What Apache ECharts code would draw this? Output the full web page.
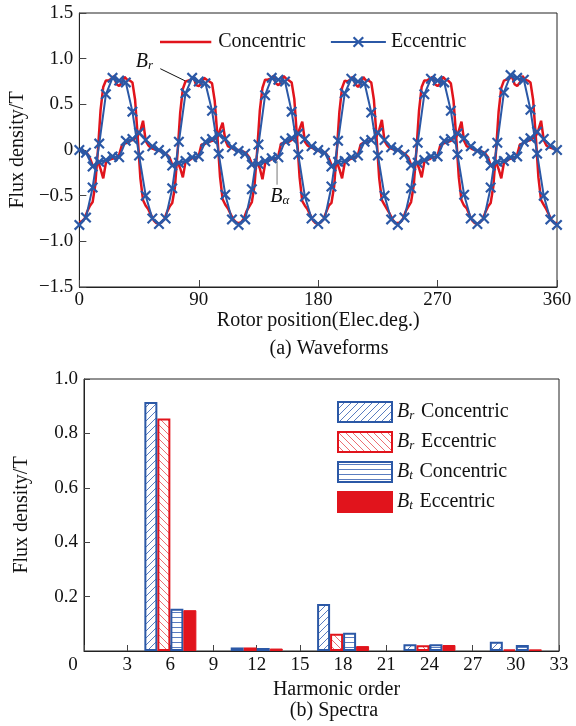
<!DOCTYPE html>
<html>
<head>
<meta charset="utf-8">
<script src="https://cdn.jsdelivr.net/npm/echarts@6/dist/echarts.min.js"></script>
<style>
html, body { margin: 0; padding: 0; background: #fff; }
#chart { width: 576px; height: 726px; }
</style>
</head>
<body>
<div id="chart"></div>
<script>
// (a) waveforms, sampled every redStep / blueStep electrical degrees from 0
const redStep = 2
const blueStep = 5

// B_r concentric (red)
const brConcentric = [
  -0.79, -0.78, -0.75, -0.67, -0.61, -0.57, -0.38, 0.00, 0.44, 0.69, 0.76, 0.76, 0.78, 0.81, 0.72, 0.70, 0.74, 0.80, 0.77, 0.76, 0.74, 0.55, 0.14, -0.31, -0.55, -0.61, -0.65, -0.71, -0.77, -0.80,
  -0.81, -0.79, -0.76, -0.68, -0.62, -0.58, -0.41, -0.03, 0.41, 0.67, 0.75, 0.76, 0.77, 0.80, 0.71, 0.70, 0.73, 0.79, 0.77, 0.75, 0.73, 0.54, 0.16, -0.29, -0.54, -0.60, -0.64, -0.70, -0.76, -0.79,
  -0.80, -0.79, -0.75, -0.67, -0.62, -0.57, -0.39, -0.01, 0.43, 0.68, 0.77, 0.77, 0.78, 0.81, 0.73, 0.71, 0.74, 0.81, 0.78, 0.76, 0.74, 0.56, 0.15, -0.30, -0.56, -0.61, -0.65, -0.71, -0.77, -0.80,
  -0.81, -0.79, -0.76, -0.68, -0.61, -0.58, -0.40, -0.02, 0.42, 0.68, 0.76, 0.75, 0.77, 0.80, 0.72, 0.69, 0.73, 0.80, 0.76, 0.76, 0.74, 0.55, 0.14, -0.31, -0.55, -0.60, -0.65, -0.70, -0.76, -0.80,
  -0.80, -0.79, -0.75, -0.67, -0.62, -0.57, -0.39, -0.01, 0.43, 0.69, 0.76, 0.76, 0.78, 0.80, 0.72, 0.70, 0.73, 0.80, 0.77, 0.76, 0.73, 0.54, 0.15, -0.30, -0.55, -0.61, -0.64, -0.71, -0.77, -0.80,
  -0.81, -0.79, -0.76, -0.68, -0.62, -0.58, -0.40, -0.02, 0.42, 0.68, 0.76, 0.77, 0.78, 0.81, 0.72, 0.70, 0.74, 0.81, 0.77, 0.76, 0.74, 0.55, 0.15, -0.30, -0.55, -0.60, -0.65, -0.71, -0.77, -0.80,
  -0.80
]
// B_alpha concentric (red)
const btConcentric = [
  0.00, -0.01, -0.02, -0.04, -0.09, -0.17, -0.19, -0.12, -0.21, -0.31, -0.14, -0.11, -0.10, -0.09, -0.10, -0.05, 0.05, 0.07, 0.08, 0.10, 0.11, 0.13, 0.15, 0.21, 0.32, 0.10, 0.05, 0.02, 0.01, 0.00,
  -0.01, -0.01, -0.03, -0.05, -0.08, -0.16, -0.18, -0.13, -0.20, -0.30, -0.13, -0.12, -0.10, -0.08, -0.10, -0.06, 0.06, 0.06, 0.08, 0.09, 0.10, 0.12, 0.14, 0.22, 0.30, 0.11, 0.04, 0.03, 0.01, 0.00,
  0.00, -0.01, -0.02, -0.04, -0.08, -0.15, -0.19, -0.14, -0.20, -0.32, -0.15, -0.12, -0.11, -0.09, -0.11, -0.06, 0.07, 0.07, 0.09, 0.09, 0.11, 0.13, 0.14, 0.23, 0.31, 0.09, 0.05, 0.03, 0.02, 0.00,
  -0.01, -0.02, -0.02, -0.04, -0.09, -0.16, -0.20, -0.13, -0.21, -0.31, -0.14, -0.12, -0.10, -0.09, -0.09, -0.05, 0.06, 0.08, 0.08, 0.10, 0.11, 0.14, 0.15, 0.22, 0.33, 0.10, 0.05, 0.02, 0.01, 0.00,
  0.00, -0.01, -0.03, -0.05, -0.08, -0.16, -0.19, -0.12, -0.20, -0.30, -0.13, -0.11, -0.10, -0.08, -0.10, -0.06, 0.05, 0.07, 0.08, 0.09, 0.10, 0.13, 0.14, 0.21, 0.31, 0.10, 0.04, 0.03, 0.01, 0.00,
  -0.01, -0.01, -0.02, -0.04, -0.08, -0.17, -0.19, -0.13, -0.21, -0.31, -0.14, -0.12, -0.10, -0.09, -0.10, -0.05, 0.06, 0.07, 0.09, 0.10, 0.11, 0.13, 0.15, 0.22, 0.32, 0.11, 0.05, 0.03, 0.02, 0.01,
  0.00
]
// B_r eccentric (blue, markers)
const brEccentric = [
  -0.82, -0.74, -0.41, 0.07, 0.61, 0.79, 0.76, 0.74, 0.42, -0.06, -0.50, -0.75,
  -0.81, -0.75, -0.42, 0.09, 0.62, 0.79, 0.75, 0.73, 0.43, -0.04, -0.49, -0.76,
  -0.82, -0.76, -0.43, 0.06, 0.60, 0.79, 0.77, 0.75, 0.42, -0.05, -0.51, -0.75,
  -0.81, -0.75, -0.40, 0.10, 0.62, 0.78, 0.75, 0.73, 0.41, -0.06, -0.50, -0.76,
  -0.82, -0.74, -0.42, 0.08, 0.61, 0.78, 0.76, 0.74, 0.43, -0.05, -0.49, -0.75,
  -0.81, -0.75, -0.41, 0.08, 0.63, 0.82, 0.79, 0.77, 0.44, -0.04, -0.50, -0.76,
  -0.82
]
// B_alpha eccentric (blue, markers)
const btEccentric = [
  0.00, -0.03, -0.18, -0.13, -0.11, -0.07, -0.08, 0.10, 0.12, 0.19, 0.11, 0.04,
  0.00, -0.04, -0.17, -0.14, -0.12, -0.08, -0.07, 0.09, 0.12, 0.17, 0.12, 0.03,
  -0.01, -0.04, -0.16, -0.15, -0.12, -0.09, -0.08, 0.10, 0.13, 0.18, 0.12, 0.04,
  0.00, -0.03, -0.18, -0.13, -0.12, -0.08, -0.06, 0.09, 0.11, 0.19, 0.11, 0.03,
  0.00, -0.05, -0.17, -0.14, -0.11, -0.07, -0.07, 0.10, 0.12, 0.18, 0.13, 0.04,
  -0.01, -0.04, -0.17, -0.13, -0.12, -0.08, -0.07, 0.09, 0.13, 0.20, 0.12, 0.05,
  0.00
]

// (b) spectra
const harmonicOrders = [6, 12, 18, 24, 30]
const brConcSpec = [0.915, 0.013, 0.173, 0.025, 0.034]
const brEccSpec = [0.855, 0.013, 0.063, 0.021, 0.006]
const btConcSpec = [0.155, 0.011, 0.067, 0.025, 0.022]
const btEccSpec = [0.150, 0.009, 0.018, 0.022, 0.006]

const RED = '#e1141c'
const BLUE = '#2b58a6'
const FONT = 'Liberation Serif, Times New Roman, serif'
const X_MARK = 'path://M0,1.4L1.4,0L5,3.6L8.6,0L10,1.4L6.4,5L10,8.6L8.6,10L5,6.4L1.4,10L0,8.6L3.6,5Z'
// plain line legend icon (tiny corner dots keep the box tall so the bar stays thin)
const LINE_ICON = 'path://M0,6.2H55V8.8H0Z M0,0H0.01V0.01H0Z M0,15H0.01V15.01H0Z'

const toPairs = (arr, step) => arr.map((v, i) => [i * step, v])
const specPairs = (vals) => vals.map((v, i) => [harmonicOrders[i], v])

// hatch fill for the spectrum bars
function hatch (kind, color) {
  const s = kind === 'h' ? 5 : 7
  const c = document.createElement('canvas')
  c.width = s
  c.height = s
  const g = c.getContext('2d')
  g.fillStyle = '#fff'
  g.fillRect(0, 0, s, s)
  g.strokeStyle = color
  g.lineWidth = 1
  g.beginPath()
  if (kind === 'h') {
    g.moveTo(0, 2.5); g.lineTo(s, 2.5)
  } else if (kind === '/') {
    g.moveTo(0, s); g.lineTo(s, 0)
    g.moveTo(-s / 2, s / 2); g.lineTo(s / 2, -s / 2)
    g.moveTo(s / 2, s * 1.5); g.lineTo(s * 1.5, s / 2)
  } else {
    g.moveTo(0, 0); g.lineTo(s, s)
    g.moveTo(-s / 2, s / 2); g.lineTo(s / 2, s * 1.5)
    g.moveTo(s / 2, -s / 2); g.lineTo(s * 1.5, s / 2)
  }
  g.stroke()
  return { image: c, repeat: 'repeat' }
}

const labelStyle = { color: '#111', fontSize: 19, fontFamily: FONT }
const nameStyle = { color: '#111', fontSize: 20, fontFamily: FONT }
const minus = (v) => (v === 0 ? '0' : v.toFixed(1).replace('-', '\u2212'))

const legendRich = {
  b: { fontSize: 20, fontStyle: 'italic', fontFamily: FONT, color: '#111' },
  s: { fontSize: 13, fontStyle: 'italic', fontFamily: FONT, color: '#111', verticalAlign: 'bottom', padding: [8, 0, 0, 0] },
  t: { fontSize: 20, fontFamily: FONT, color: '#111' }
}

const chart = echarts.init(document.getElementById('chart'))

chart.setOption({
  animation: false,
  backgroundColor: '#fff',
  grid: [
    { left: 77, right: 19, top: 13, bottom: 439, show: true, borderColor: '#222', borderWidth: 1 },
    { left: 84, right: 17, top: 379, bottom: 75, show: true, borderColor: '#222', borderWidth: 1 }
  ],
  legend: [
    {
      data: [{ name: 'Concentric', icon: LINE_ICON }, 'Eccentric'],
      left: 155,
      top: 27,
      itemWidth: 55,
      itemHeight: 14,
      itemGap: 24,
      textStyle: nameStyle
    },
    {
      data: ['Br Concentric', 'Br Eccentric', 'Bt Concentric', 'Bt Eccentric'],
      orient: 'vertical',
      icon: 'rect',
      left: 332,
      top: 396,
      itemWidth: 54,
      itemHeight: 20,
      itemGap: 8,
      formatter: (n) => '{b|B}{s|' + n[1] + '}  {t|' + n.slice(3) + '}',
      textStyle: { rich: legendRich }
    }
  ],
  xAxis: [
    {
      type: 'value',
      gridIndex: 0,
      min: 0,
      max: 360,
      interval: 90,
      name: 'Rotor position(Elec.deg.)',
      nameLocation: 'middle',
      nameGap: 23,
      nameTextStyle: nameStyle,
      axisLine: { onZero: false, lineStyle: { color: '#222' } },
      axisTick: { inside: true, length: 7, lineStyle: { color: '#444' } },
      axisLabel: Object.assign({ margin: 4 }, labelStyle),
      splitLine: { show: false }
    },
    {
      type: 'value',
      gridIndex: 1,
      min: 0,
      max: 33,
      interval: 3,
      name: 'Harmonic order',
      nameLocation: 'middle',
      nameGap: 29,
      nameTextStyle: Object.assign({ padding: [0, 0, 0, 30] }, nameStyle),
      axisLine: { onZero: false, lineStyle: { color: '#222' } },
      axisTick: { inside: true, length: 6, lineStyle: { color: '#444' } },
      axisLabel: Object.assign({
        margin: 5,
        formatter: (v) => (v === 0 ? '{o|0}' : String(v)),
        rich: { o: { fontSize: 19, fontFamily: FONT, color: '#111', padding: [0, 22, 0, 0] } }
      }, labelStyle),
      splitLine: { show: false }
    }
  ],
  yAxis: [
    {
      type: 'value',
      gridIndex: 0,
      min: -1.5,
      max: 1.5,
      interval: 0.5,
      name: 'Flux density/T',
      nameLocation: 'middle',
      nameGap: 51,
      nameTextStyle: nameStyle,
      axisLine: { onZero: false, lineStyle: { color: '#222' } },
      axisTick: { inside: true, length: 7, lineStyle: { color: '#444' } },
      axisLabel: Object.assign({ margin: 6, formatter: minus }, labelStyle),
      splitLine: { show: false }
    },
    {
      type: 'value',
      gridIndex: 1,
      min: 0,
      max: 1,
      interval: 0.2,
      name: 'Flux density/T',
      nameLocation: 'middle',
      nameGap: 52,
      nameTextStyle: nameStyle,
      axisLine: { onZero: false, lineStyle: { color: '#222' } },
      axisTick: { inside: true, length: 6, lineStyle: { color: '#444' } },
      axisLabel: Object.assign({ margin: 6, showMinLabel: false, formatter: (v) => v.toFixed(1) }, labelStyle),
      splitLine: { show: false }
    }
  ],
  series: [
    {
      name: 'Concentric', type: 'line', xAxisIndex: 0, yAxisIndex: 0,
      data: toPairs(brConcentric, redStep), symbol: 'none',
      lineStyle: { color: RED, width: 2.5 }, itemStyle: { color: RED }
    },
    {
      name: 'Concentric', type: 'line', xAxisIndex: 0, yAxisIndex: 0,
      data: toPairs(btConcentric, redStep), symbol: 'none',
      lineStyle: { color: RED, width: 2.5 }, itemStyle: { color: RED }
    },
    {
      name: 'Eccentric', type: 'line', xAxisIndex: 0, yAxisIndex: 0,
      data: toPairs(brEccentric, blueStep), symbol: X_MARK, symbolSize: 11,
      lineStyle: { color: BLUE, width: 2 }, itemStyle: { color: BLUE }
    },
    {
      name: 'Eccentric', type: 'line', xAxisIndex: 0, yAxisIndex: 0,
      data: toPairs(btEccentric, blueStep), symbol: X_MARK, symbolSize: 11,
      lineStyle: { color: BLUE, width: 2 }, itemStyle: { color: BLUE }
    },
    {
      name: 'Br Concentric', type: 'bar', xAxisIndex: 1, yAxisIndex: 1,
      data: specPairs(brConcSpec), barWidth: 13, barGap: '0%',
      itemStyle: { color: hatch('/', '#5a7dc0'), borderColor: BLUE, borderWidth: 2 }
    },
    {
      name: 'Br Eccentric', type: 'bar', xAxisIndex: 1, yAxisIndex: 1,
      data: specPairs(brEccSpec), barWidth: 13, barGap: '0%',
      itemStyle: { color: hatch('\\', '#ec6f73'), borderColor: RED, borderWidth: 2 }
    },
    {
      name: 'Bt Concentric', type: 'bar', xAxisIndex: 1, yAxisIndex: 1,
      data: specPairs(btConcSpec), barWidth: 13, barGap: '0%',
      itemStyle: { color: hatch('h', '#5a7dc0'), borderColor: BLUE, borderWidth: 2 }
    },
    {
      name: 'Bt Eccentric', type: 'bar', xAxisIndex: 1, yAxisIndex: 1,
      data: specPairs(btEccSpec), barWidth: 13, barGap: '0%',
      itemStyle: { color: RED, borderColor: RED, borderWidth: 1 }
    }
  ]
})

// annotations and captions, positioned from data coordinates
const px = (x, y) => chart.convertToPixel({ gridIndex: 0 }, [x, y])
const brText = px(49, 0.97)
const brA = px(61, 0.89)
const brB = px(80, 0.755)
const baText = px(151, -0.51)
const baA = px(149, -0.12)
const baB = px(149, -0.38)
const symRich = {
  b: { fontSize: 20, fontStyle: 'italic', fontFamily: FONT, fill: '#111' },
  s: { fontSize: 13, fontStyle: 'italic', fontFamily: FONT, fill: '#111', verticalAlign: 'bottom', padding: [8, 0, 0, 0] }
}

chart.setOption({
  graphic: [
    { type: 'text', x: brText[0], y: brText[1], style: { text: '{b|B}{s|r}', rich: symRich, align: 'center', verticalAlign: 'middle' } },
    { type: 'line', shape: { x1: brA[0], y1: brA[1], x2: brB[0], y2: brB[1] }, style: { stroke: '#111', lineWidth: 1 } },
    { type: 'text', x: baText[0], y: baText[1], style: { text: '{b|B}{s|\u03b1}', rich: symRich, align: 'center', verticalAlign: 'middle' } },
    { type: 'line', shape: { x1: baA[0], y1: baA[1], x2: baB[0], y2: baB[1] }, style: { stroke: '#777', lineWidth: 1 } },
    { type: 'text', x: 329, y: 349, style: { text: '(a) Waveforms', font: '20px ' + FONT, fill: '#111', align: 'center', verticalAlign: 'middle' } },
    { type: 'text', x: 334, y: 711, style: { text: '(b) Spectra', font: '20px ' + FONT, fill: '#111', align: 'center', verticalAlign: 'middle' } }
  ]
})
</script>
</body>
</html>
